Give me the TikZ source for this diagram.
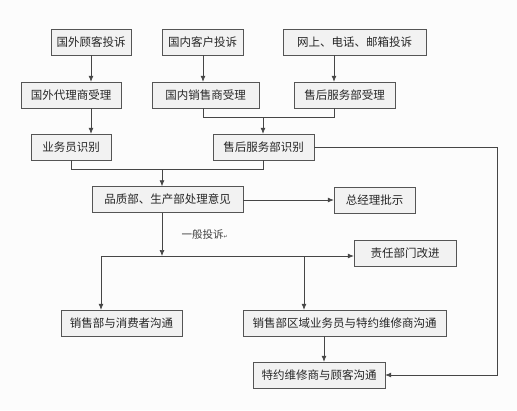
\documentclass[tikz,border=0pt]{standalone}
\usepackage{fontspec}
\setmainfont{Noto Sans CJK SC}
\newfontfamily\symfont{DejaVu Sans}
\usetikzlibrary{arrows.meta, positioning}
\definecolor{boxfill}{RGB}{242, 242, 242}
\definecolor{boxline}{RGB}{85, 85, 85}
\definecolor{wireline}{RGB}{70, 70, 70}
\definecolor{paper}{RGB}{252, 252, 252}

\begin{document}
\begin{tikzpicture}[x=1pt, y=-1pt,
    box/.style={draw=boxline, fill=boxfill, minimum height=26pt, inner sep=2pt,
                font=\fontsize{11.5}{13}\selectfont, text=black!85},
    wire/.style={draw=wireline, line width=0.7pt},
    arr/.style={wire, -{Latex[length=6pt, width=5pt]}}]
                % Page and background
                \fill[paper] (0,0) rectangle (517,410);
                \useasboundingbox (0,0) rectangle (517,410);

                % Complaint sources
                \node[box, minimum width=80pt] (gwgk) at (91,42) {国外顾客投诉};
                \node[box, minimum width=81pt] (gnkh) at (202.5,42) {国内客户投诉};
                \node[box, minimum width=143pt] (wsts) at (354.5,42) {网上、电话、邮箱投诉};

                % Acceptance
                \node[box, minimum width=100pt] (gwdl) at (71,95) {国外代理商受理};
                \node[box, minimum width=107pt] (gnxs) at (205.5,95) {国内销售商受理};
                \node[box, minimum width=101pt] (shsl) at (344.5,95) {售后服务部受理};

                % Identification
                \node[box, minimum width=80pt] (ywsb) at (71,147) {业务员识别};
                \node[box, minimum width=101pt] (shsb) at (263.5,147) {售后服务部识别};

                % Handling
                \node[box, minimum width=151pt] (pzcl) at (167.5,199.5) {品质部、生产部处理意见};
                \node[box, minimum width=81pt] (zjl) at (374.5,200) {总经理批示};
                \node[box, minimum width=102pt] (zrgj) at (405,253) {责任部门改进};
                \node[box, minimum width=121pt] (xsgt) at (121.5,323) {销售部与消费者沟通};
                \node[box, minimum width=203pt] (qygt) at (344.5,323) {销售部区域业务员与特约维修商沟通};
                \node[box, minimum width=132pt] (wxgt) at (319,375) {特约维修商与顾客沟通};

                % Columns and rows for the wires
                \coordinate (ca) at (91,117);
                \coordinate (cb) at (203,117);
                \coordinate (cc) at (334,117);
                \coordinate (cd) at (263,117);
                \coordinate (ce) at (71,169);
                \coordinate (cf) at (162,169);
                \coordinate (cg) at (101,256);
                \coordinate (ch) at (304,256);
                \coordinate (ci) at (324,256);
                \coordinate (cj) at (497,256);

                % Sources to acceptance
                \draw[arr] (ca |- gwgk.south) -- (ca |- gwdl.north);
                \draw[arr] (cb |- gnkh.south) -- (cb |- gnxs.north);
                \draw[arr] (cc |- wsts.south) -- (cc |- shsl.north);

                % Acceptance to identification
                \draw[arr] (ca |- gwdl.south) -- (ca |- ywsb.north);
                \draw[wire] (cb |- gnxs.south) -- (cb) -- (cc) -- (cc |- shsl.south);
                \draw[arr] (cd) -- (cd |- shsb.north);

                % Identification to handling
                \draw[wire] (ce |- ywsb.south) -- (ce) -- (cd |- ce) -- (cd |- shsb.south);
                \draw[arr] (cf) -- (cf |- pzcl.north);
                \draw[arr] (pzcl.east |- zjl) -- (zjl.west);

                % General complaints
                \draw[arr] (cf |- pzcl.south) -- (cf |- cg)
                    node[pos=0.5, right=16pt, font=\fontsize{10.5}{12}\selectfont, text=black!75] (ybts) {一般投诉{\symfont\tiny ↵}};
                \draw[arr] (cg) -- (zrgj.west |- cg);
                \draw[arr] (cg) -- (cg |- xsgt.north);
                \draw[arr] (ch) -- (ch |- qygt.north);
                \draw[arr] (ci |- qygt.south) -- (ci |- wxgt.north);

                % After-sales direct line
                \draw[arr] (shsb.east) -- (cj |- shsb.east) -- (cj |- wxgt.east) -- (wxgt.east);
            \end{tikzpicture}
\end{document}
